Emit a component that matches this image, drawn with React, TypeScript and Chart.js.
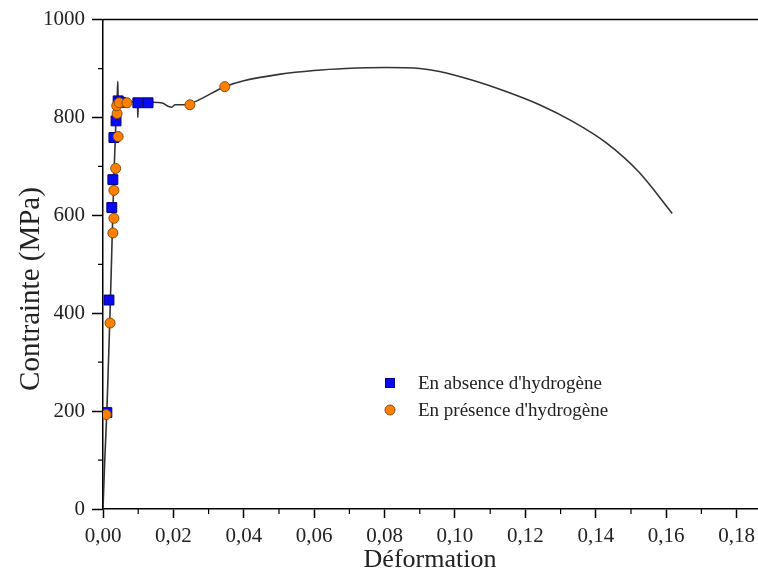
import React, { useEffect, useRef } from 'react';
import { Chart, registerables } from 'chart.js';

Chart.register(...registerables);

// ---- Data ----
const curveStrain = [0, 0.0005, 0.0011, 0.002, 0.0027, 0.0031, 0.0036, 0.004, 0.0042, 0.0043, 0.006, 0.0098, 0.0099, 0.01, 0.014, 0.017, 0.0185, 0.0195, 0.0205, 0.023, 0.0247, 0.0346, 0.04, 0.05, 0.06, 0.069, 0.0806, 0.09, 0.0956, 0.105, 0.1145, 0.124, 0.1334, 0.143, 0.1523, 0.1617];
const curveStress = [0, 100, 200, 400, 580, 680, 780, 828, 874, 836, 833, 830, 800, 830, 831, 829, 823, 821, 826, 826, 828, 863, 875, 888, 896, 900, 902, 900, 894, 876, 853, 826, 792, 748, 688, 604];

const absenceStrain = [0.0011, 0.0017, 0.0025, 0.0028, 0.0031, 0.0037, 0.0043, 0.005, 0.0099, 0.0128];
const absenceStress = [197, 427, 616, 673, 759, 793, 834, 831, 830, 830];

const presenceStrain = [0.0009, 0.002, 0.0028, 0.0031, 0.0031, 0.0036, 0.0043, 0.004, 0.0039, 0.0046, 0.0068, 0.0247, 0.0346];
const presenceStress = [193, 380, 564, 594, 651, 696, 761, 808, 824, 830, 830, 826, 863];

const xTickValues = [0, 0.02, 0.04, 0.06, 0.08, 0.1, 0.12, 0.14, 0.16, 0.18];
const xMinorValues = [0.01, 0.03, 0.05, 0.07, 0.09, 0.11, 0.13, 0.15, 0.17];
const yTickValues = [0, 200, 400, 600, 800, 1000];
const yMinorValues = [100, 300, 500, 700, 900];

const seriesLabels = ["En absence d'hydrogène", "En présence d'hydrogène"];
const xTitle = 'Déformation';
const yTitle = 'Contrainte (MPa)';

const FONT = "'Liberation Serif', 'Times New Roman', serif";

const formatX = (v: number) => v.toFixed(2).replace('.', ',');

const decorPlugin = {
  id: 'decor',
  afterDraw(chart: any) {
    const { ctx, chartArea, scales } = chart;
    const x = scales.x;
    const y = scales.y;
    ctx.save();
    // top frame line
    ctx.strokeStyle = '#000';
    ctx.lineWidth = 1.5;
    ctx.beginPath();
    ctx.moveTo(chartArea.left, chartArea.top);
    ctx.lineTo(chart.width, chartArea.top);
    ctx.stroke();
    // minor ticks
    ctx.lineWidth = 1.2;
    ctx.beginPath();
    xMinorValues.forEach((v) => {
      const px = x.getPixelForValue(v);
      ctx.moveTo(px, chartArea.bottom);
      ctx.lineTo(px, chartArea.bottom + 5);
    });
    yMinorValues.forEach((v) => {
      const py = y.getPixelForValue(v);
      ctx.moveTo(chartArea.left - 5, py);
      ctx.lineTo(chartArea.left, py);
    });
    ctx.stroke();

    // x tick labels
    ctx.font = `21px ${FONT}`;
    ctx.fillStyle = '#222';
    ctx.textAlign = 'center';
    ctx.textBaseline = 'middle';
    xTickValues.forEach((v) => {
      ctx.fillText(formatX(v), x.getPixelForValue(v), chartArea.bottom + 27);
    });

    // y title
    ctx.save();
    ctx.translate(31, 289);
    ctx.rotate(-Math.PI / 2);
    ctx.font = `29px ${FONT}`;
    ctx.fillStyle = '#222';
    ctx.textAlign = 'center';
    ctx.textBaseline = 'middle';
    ctx.fillText(yTitle, 0, 0);
    ctx.restore();

    // legend
    const ds = chart.data.datasets;
    const lx = 390;
    const rows = [383, 410];
    ctx.font = `19px ${FONT}`;
    ctx.textAlign = 'left';
    ctx.textBaseline = 'middle';
    [1, 2].forEach((di, i) => {
      const d = ds[di];
      const ly = rows[i];
      ctx.fillStyle = d.backgroundColor;
      ctx.strokeStyle = d.borderColor;
      ctx.lineWidth = 1;
      if (d.pointStyle === 'rect') {
        ctx.fillRect(lx - 4.5, ly - 4.5, 9, 9);
        ctx.strokeRect(lx - 4.5, ly - 4.5, 9, 9);
      } else {
        ctx.beginPath();
        ctx.arc(lx, ly, 5, 0, Math.PI * 2);
        ctx.fill();
        ctx.stroke();
      }
      ctx.fillStyle = '#222';
      ctx.fillText(seriesLabels[i], 418, ly + 1);
    });
    ctx.restore();
  },
};

export default function App() {
  const canvasRef = useRef<HTMLCanvasElement | null>(null);

  useEffect(() => {
    const canvas = canvasRef.current;
    if (!canvas) return;
    const chart = new Chart(canvas, {
      type: 'scatter',
      data: {
        datasets: [
          {
            label: 'Courbe',
            data: curveStrain.map((v, i) => ({ x: v, y: curveStress[i] })),
            showLine: true,
            borderColor: '#333',
            borderWidth: 1.6,
            pointRadius: 0,
            cubicInterpolationMode: 'monotone',
            order: 2,
          },
          {
            label: seriesLabels[0],
            data: absenceStrain.map((v, i) => ({ x: v, y: absenceStress[i] })),
            pointStyle: 'rect',
            pointRadius: 7,
            backgroundColor: '#0a0af0',
            borderColor: '#00007a',
            borderWidth: 1,
            showLine: false,
            order: 1,
          },
          {
            label: seriesLabels[1],
            data: presenceStrain.map((v, i) => ({ x: v, y: presenceStress[i] })),
            pointStyle: 'circle',
            pointRadius: 5,
            backgroundColor: '#ff8000',
            borderColor: '#8a4a10',
            borderWidth: 1,
            showLine: false,
            order: 0,
          },
        ],
      },
      options: {
        animation: false,
        responsive: false,
        maintainAspectRatio: false,
        layout: { autoPadding: false, padding: { top: 17, right: 1, left: 0, bottom: 0 } },
        plugins: { legend: { display: false }, tooltip: { enabled: false } },
        scales: {
          x: {
            type: 'linear',
            min: 0,
            max: 0.1858,
            afterBuildTicks: (s: any) => {
              s.ticks = xTickValues.map((v) => ({ value: v }));
            },
            afterFit: (s: any) => {
              s.height = 69;
            },
            ticks: {
              display: false,
              autoSkip: false,
              maxRotation: 0,
            },
            grid: {
              display: true,
              drawOnChartArea: false,
              drawTicks: true,
              tickLength: 9,
              tickColor: '#000',
              tickWidth: 1.5,
            },
            border: { display: true, color: '#000', width: 1.5 },
            title: {
              display: true,
              text: xTitle,
              color: '#222',
              font: { family: FONT, size: 26 },
              padding: { top: 0, bottom: 2 },
            },
          },
          y: {
            type: 'linear',
            min: 0,
            max: 1000,
            afterBuildTicks: (s: any) => {
              s.ticks = yTickValues.map((v) => ({ value: v }));
            },
            afterFit: (s: any) => {
              s.width = 103;
            },
            ticks: {
              autoSkip: false,
              padding: 7,
              color: '#222',
              font: { family: FONT, size: 21 },
              callback: (v: any) => String(v),
            },
            grid: {
              display: true,
              drawOnChartArea: false,
              drawTicks: true,
              tickLength: 11,
              tickColor: '#000',
              tickWidth: 1.5,
            },
            border: { display: true, color: '#000', width: 1.5 },
            title: { display: false },
          },
        },
      },
      plugins: [decorPlugin],
    } as any);
    return () => chart.destroy();
  }, []);

  return (
    <div style={{ position: 'absolute', left: 0, top: 0, width: 758, height: 578, background: '#fff' }}>
      <canvas ref={canvasRef} width={758} height={578} style={{ display: 'block' }} />
    </div>
  );
}
